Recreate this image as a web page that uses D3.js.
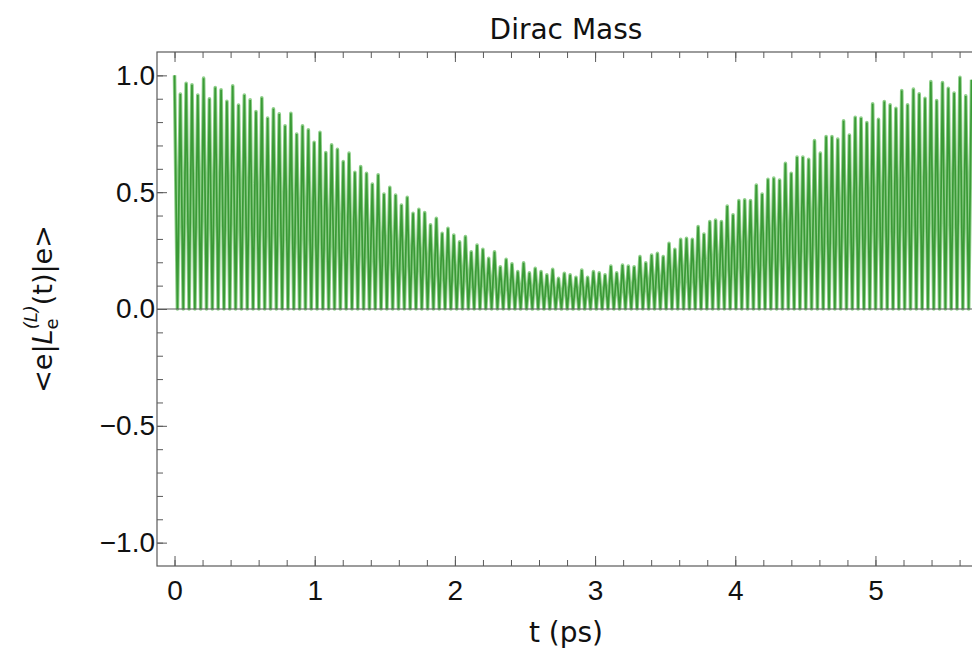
<!DOCTYPE html>
<html>
<head>
<meta charset="utf-8">
<script src="https://cdn.jsdelivr.net/npm/d3@7"></script>
<style>
  html, body { margin: 0; padding: 0; background: #fff; }
  svg { display: block; font-family: "DejaVu Sans", sans-serif; }
</style>
</head>
<body>
<svg id="chart" width="972" height="661"></svg>
<script>
// ---- data ----
const title = "Dirac Mass";
const xLabel = "t (ps)";
const xTicks = [0, 1, 2, 3, 4, 5];
const yTicks = [-1.0, -0.5, 0.0, 0.5, 1.0];
const xDomain = [-0.125, 5.71];
const yDomain = [-1.1, 1.1];
// successive maxima of the fast oscillation (one every peakPeriod ps, first at t = 0)
const peakPeriod = 0.0415;
const troughValue = 0;
const peakValues = [
  1.0, 0.92, 0.966, 0.96, 0.916, 0.988, 0.90, 0.948, 0.938, 0.889, 0.955, 0.873,
  0.916, 0.895, 0.845, 0.904, 0.817, 0.857, 0.835, 0.784, 0.838, 0.749, 0.784, 0.767,
  0.714, 0.756, 0.67, 0.703, 0.684, 0.631, 0.667, 0.585, 0.61,
  0.581, 0.535, 0.574, 0.492, 0.521, 0.488, 0.445, 0.478, 0.41, 0.427, 0.413, 0.36,
  0.388, 0.324, 0.345, 0.317, 0.288, 0.31, 0.245, 0.274, 0.256, 0.217, 0.245, 0.181,
  0.213, 0.193, 0.16, 0.198, 0.155, 0.174, 0.16, 0.146, 0.17, 0.131,
  0.153, 0.146, 0.136, 0.167, 0.136, 0.16, 0.155, 0.146, 0.184, 0.155, 0.188, 0.184,
  0.181, 0.224, 0.198, 0.231, 0.238, 0.224, 0.281, 0.256, 0.298, 0.303, 0.298, 0.353,
  0.321, 0.374, 0.381, 0.374, 0.441, 0.403, 0.464, 0.467, 0.464, 0.531,
  0.492, 0.555, 0.56, 0.552, 0.624, 0.581, 0.65, 0.65, 0.641, 0.721, 0.667, 0.738,
  0.738, 0.727, 0.806, 0.745, 0.821, 0.817, 0.798, 0.878, 0.812, 0.888, 0.874, 0.859,
  0.935, 0.874, 0.941, 0.921, 0.902, 0.973, 0.892, 0.969, 0.945, 0.924, 0.992, 0.912,
  0.981
];

// ---- layout ----
const W = 972, H = 661;
const plot = { left: 157, top: 52, right: 975, bottom: 566 };
const frameColor = "#5a5a5a";
const lineColor = "#3a9a36";
const lineHalo = "#8fcf8a";

const svg = d3.select("#chart");
const x = d3.scaleLinear().domain(xDomain).range([plot.left, plot.right]);
const y = d3.scaleLinear().domain(yDomain).range([plot.bottom, plot.top]);

// series: maxima alternating with the zero troughs between them
const series = [];
peakValues.forEach((v, i) => {
  series.push({ t: i * peakPeriod, v: v });
  if (i < peakValues.length - 1) series.push({ t: (i + 0.5) * peakPeriod, v: troughValue });
});

svg.append("defs").append("clipPath").attr("id", "clip")
  .append("rect").attr("x", plot.left).attr("y", plot.top)
  .attr("width", plot.right - plot.left).attr("height", plot.bottom - plot.top);

const line = d3.line().x(d => x(d.t)).y(d => y(d.v));
const curve = svg.append("g").attr("clip-path", "url(#clip)");
curve.append("path")
  .datum(series)
  .attr("fill", "none")
  .attr("stroke", lineHalo)
  .attr("stroke-width", 3.6)
  .attr("stroke-linejoin", "round")
  .attr("d", line);
curve.append("path")
  .datum(series)
  .attr("fill", "none")
  .attr("stroke", lineColor)
  .attr("stroke-width", 1.7)
  .attr("stroke-linejoin", "miter")
  .attr("d", line);

// ---- axes (ticks inside) ----
const xMinor = d3.range(0, 5.8, 0.2).map(v => +v.toFixed(2));
const yMinor = d3.range(-1.0, 1.05, 0.1).map(v => +v.toFixed(2));
const fmtY = d => (d < 0 ? "\u2212" : "") + Math.abs(d).toFixed(1);

function styleAxis(g) {
  g.select(".domain").remove();
  g.selectAll("line").attr("stroke", frameColor).attr("stroke-width", 1);
}

// bottom
svg.append("g").attr("transform", `translate(0,${plot.bottom})`)
  .call(d3.axisTop(x).tickValues(xMinor).tickSize(6).tickFormat(""))
  .call(styleAxis);
svg.append("g").attr("transform", `translate(0,${plot.bottom})`)
  .call(d3.axisBottom(x).tickValues(xTicks).tickSize(0).tickPadding(14).tickFormat(d3.format("d")))
  .call(g => { g.select(".domain").remove(); g.selectAll("text").attr("font-size", 28).attr("fill", "#111"); });
svg.append("g").attr("transform", `translate(0,${plot.bottom})`)
  .call(d3.axisTop(x).tickValues(xTicks).tickSize(10).tickFormat(""))
  .call(styleAxis);
// top
svg.append("g").attr("transform", `translate(0,${plot.top})`)
  .call(d3.axisBottom(x).tickValues(xMinor).tickSize(6).tickFormat(""))
  .call(styleAxis);
svg.append("g").attr("transform", `translate(0,${plot.top})`)
  .call(d3.axisBottom(x).tickValues(xTicks).tickSize(10).tickFormat(""))
  .call(styleAxis);
// left
svg.append("g").attr("transform", `translate(${plot.left},0)`)
  .call(d3.axisRight(y).tickValues(yMinor).tickSize(6).tickFormat(""))
  .call(styleAxis);
svg.append("g").attr("transform", `translate(${plot.left},0)`)
  .call(d3.axisRight(y).tickValues(yTicks).tickSize(10).tickFormat(""))
  .call(styleAxis);
svg.append("g").attr("transform", `translate(${plot.left},0)`)
  .call(d3.axisLeft(y).tickValues(yTicks).tickSize(0).tickPadding(2).tickFormat(fmtY))
  .call(g => { g.select(".domain").remove(); g.selectAll("text").attr("font-size", 28).attr("fill", "#111"); });

// frame
svg.append("rect")
  .attr("x", plot.left).attr("y", plot.top)
  .attr("width", plot.right - plot.left).attr("height", plot.bottom - plot.top)
  .attr("fill", "none").attr("stroke", frameColor).attr("stroke-width", 1.2);

// zero line
svg.append("line")
  .attr("x1", plot.left).attr("x2", plot.right)
  .attr("y1", y(0)).attr("y2", y(0))
  .attr("stroke", frameColor).attr("stroke-width", 1.2);

// ---- titles ----
const midX = (plot.left + plot.right) / 2;
svg.append("text").attr("x", midX).attr("y", 39)
  .attr("text-anchor", "middle").attr("font-size", 28).attr("fill", "#111").text(title);
svg.append("text").attr("x", midX).attr("y", 642)
  .attr("text-anchor", "middle").attr("font-size", 28).attr("fill", "#111").text(xLabel);

const yl = svg.append("text")
  .attr("transform", `translate(52,${(plot.top + plot.bottom) / 2}) rotate(-90)`)
  .attr("text-anchor", "middle").attr("font-size", 27).attr("fill", "#111");
yl.append("tspan").text("<e|");
yl.append("tspan").attr("font-style", "italic").text("L");
yl.append("tspan").attr("font-size", 18).attr("dy", 6).text("e");
yl.append("tspan").attr("font-size", 18).attr("font-style", "italic").attr("dx", -11).attr("dy", -21).text("(L)");
yl.append("tspan").attr("dy", 15).text("(t)|e>");
</script>
</body>
</html>
